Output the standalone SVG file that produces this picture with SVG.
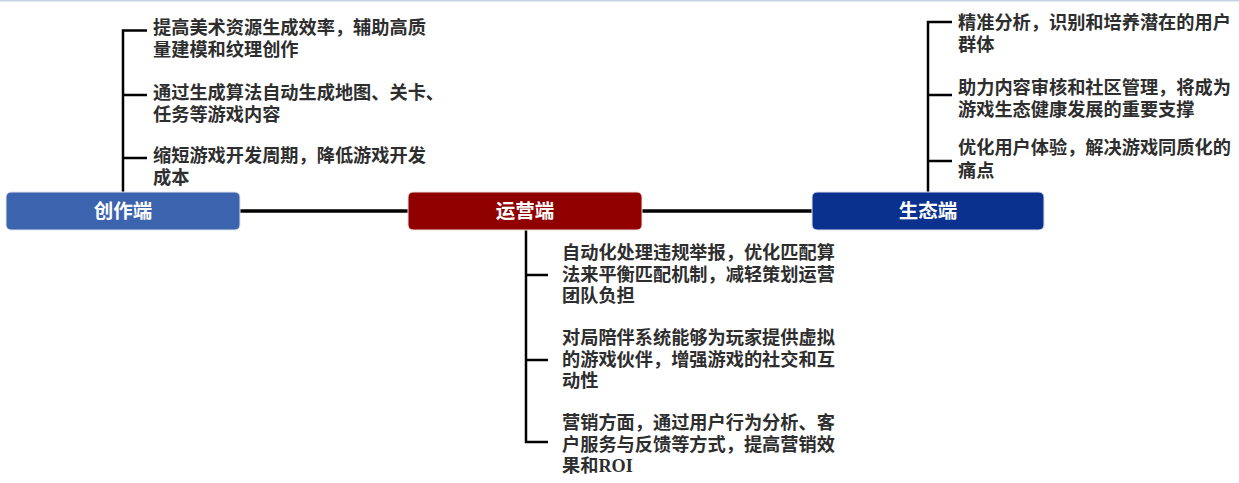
<svg xmlns="http://www.w3.org/2000/svg" width="1239" height="483" viewBox="0 0 1239 483">
<style>
.t{font-family:"Liberation Serif","Noto Sans CJK SC",serif;font-size:18.2px;font-weight:bold;fill:#2e2e2e}
.n{font-family:"Noto Sans CJK SC",sans-serif;font-size:19.5px;font-weight:bold;fill:#ffffff;text-anchor:middle}
.ln{stroke:#000;stroke-width:2.5;fill:none}
.main{stroke:#000;stroke-width:3.5;fill:none}
</style>
<rect width="1239" height="483" fill="#ffffff"/>
<line x1="0" y1="0.5" x2="1239" y2="0.5" stroke="#c6d3e7" stroke-width="2"/>
<g id="connectors">
<line class="main" x1="240" y1="211" x2="408" y2="211"/>
<line class="main" x1="642" y1="211" x2="812" y2="211"/>
<path class="ln" d="M123 192 V30.5 H147 M123 95 H147 M123 158 H147"/>
<path class="ln" d="M526 230 V442 H548 M526 275 H548 M526 360 H548"/>
<path class="ln" d="M928 192 V22 H952 M928 95 H952 M928 161 H952"/>
</g>
<g id="node-create">
<rect x="6" y="192" width="234" height="38" rx="5" fill="#3b63ae" stroke="#dfe6f2" stroke-width="1"/>
<text class="n" x="123" y="218">创作端</text>
</g>
<g id="node-operate">
<rect x="408" y="192" width="234" height="38" rx="5" fill="#910000" stroke="#f0dede" stroke-width="1"/>
<text class="n" x="525" y="218">运营端</text>
</g>
<g id="node-eco">
<rect x="812" y="192" width="232" height="38" rx="5" fill="#0b318e" stroke="#dfe4f0" stroke-width="1"/>
<text class="n" x="928" y="218">生态端</text>
</g>
<g id="create-items">
<text class="t" x="153" y="34">提高美术资源生成效率，辅助高质</text>
<text class="t" x="153" y="56">量建模和纹理创作</text>
<text class="t" x="153" y="99">通过生成算法自动生成地图、关卡、</text>
<text class="t" x="153" y="121">任务等游戏内容</text>
<text class="t" x="153" y="162">缩短游戏开发周期，降低游戏开发</text>
<text class="t" x="153" y="184">成本</text>
</g>
<g id="operate-items">
<text class="t" x="562" y="259">自动化处理违规举报，优化匹配算</text>
<text class="t" x="562" y="280.5">法来平衡匹配机制，减轻策划运营</text>
<text class="t" x="562" y="302">团队负担</text>
<text class="t" x="562" y="344">对局陪伴系统能够为玩家提供虚拟</text>
<text class="t" x="562" y="365.5">的游戏伙伴，增强游戏的社交和互</text>
<text class="t" x="562" y="387">动性</text>
<text class="t" x="562" y="429">营销方面，通过用户行为分析、客</text>
<text class="t" x="562" y="450.5">户服务与反馈等方式，提高营销效</text>
<text class="t" x="562" y="472">果和ROI</text>
</g>
<g id="eco-items">
<text class="t" x="958" y="29">精准分析，识别和培养潜在的用户</text>
<text class="t" x="958" y="51">群体</text>
<text class="t" x="958" y="94">助力内容审核和社区管理，将成为</text>
<text class="t" x="958" y="116">游戏生态健康发展的重要支撑</text>
<text class="t" x="958" y="154">优化用户体验，解决游戏同质化的</text>
<text class="t" x="958" y="177">痛点</text>
</g>
</svg>
